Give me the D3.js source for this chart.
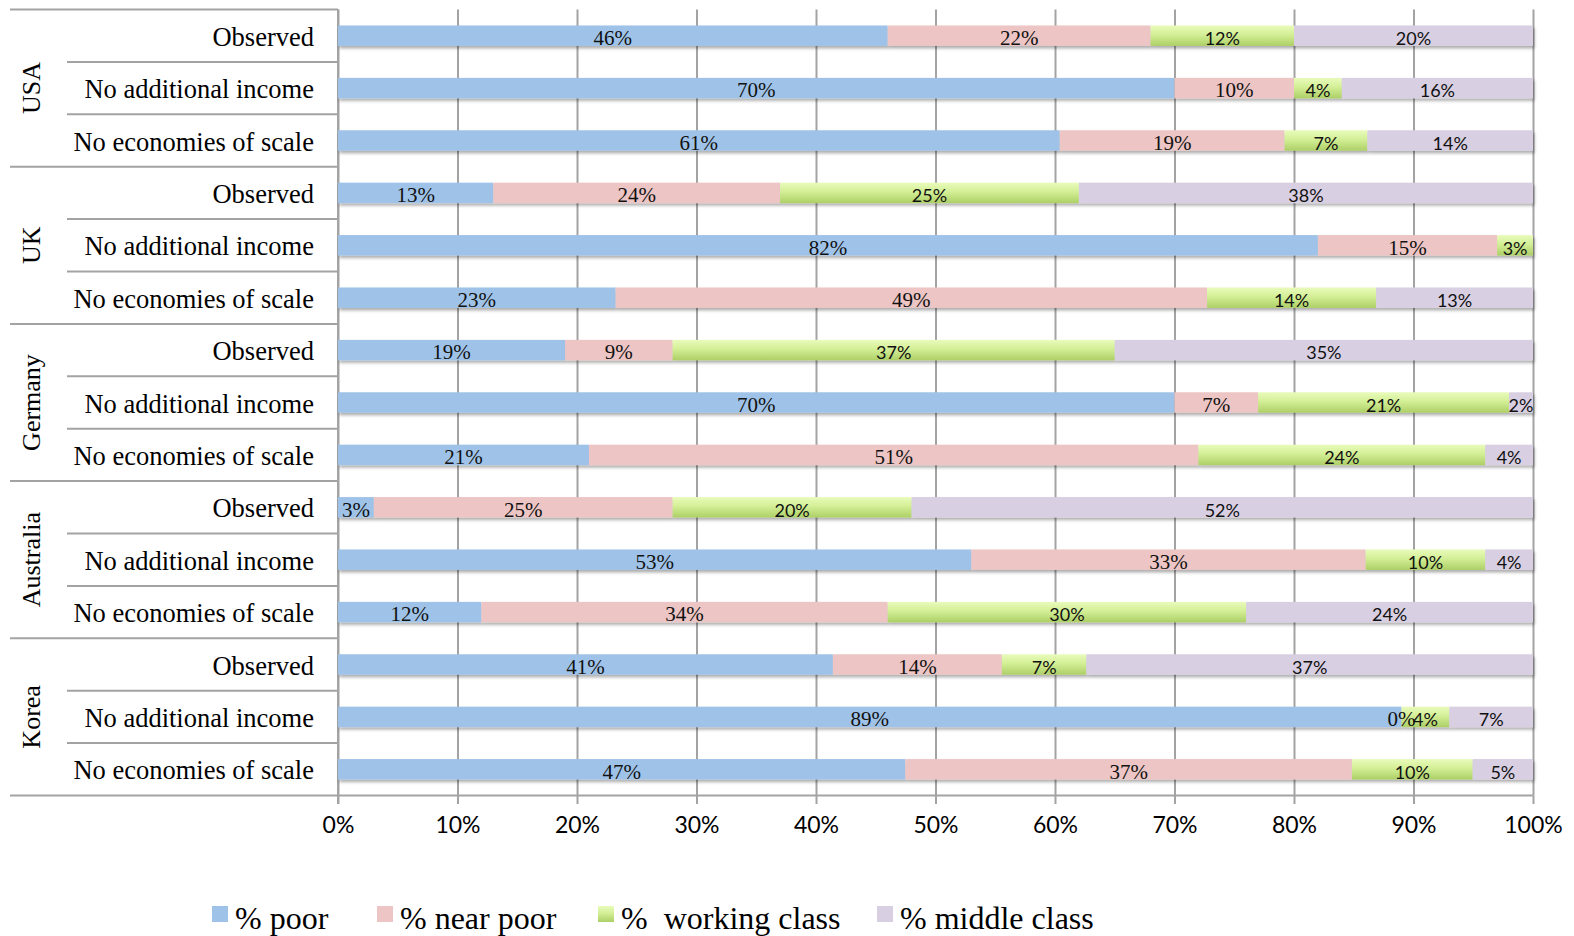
<!DOCTYPE html>
<html>
<head>
<meta charset="utf-8">
<script src="https://cdn.jsdelivr.net/npm/d3@7"></script>
<style>
  html, body { margin: 0; padding: 0; background: #fff; }
  svg { display: block; }
  text { white-space: pre; }
</style>
</head>
<body>
<svg id="chart" width="1574" height="936"></svg>
<script>
// ---- Data -------------------------------------------------------------
const countries = ["USA", "UK", "Germany", "Australia", "Korea"];
const scenarios = ["Observed", "No additional income", "No economies of scale"];

// One value per row: countries x scenarios, in reading order
const poor         = [46, 70, 61, 13, 82, 23, 19, 70, 21,  3, 53, 12, 41, 89, 47];
const nearPoor     = [22, 10, 19, 24, 15, 49,  9,  7, 51, 25, 33, 34, 14,  0, 37];
const workingClass = [12,  4,  7, 25,  3, 14, 37, 21, 24, 20, 10, 30,  7,  4, 10];
const middleClass  = [20, 16, 14, 38, null, 13, 35, 2, 4, 52,  4, 24, 37,  7,  5];

const seriesKeys   = ["poor", "nearPoor", "workingClass", "middleClass"];
const seriesNames  = ["% poor", "% near poor", "%  working class", "% middle class"];
const xTicks       = [0, 0.1, 0.2, 0.3, 0.4, 0.5, 0.6, 0.7, 0.8, 0.9, 1.0];

// ---- Layout & style ---------------------------------------------------
const serif = "'Liberation Serif', 'Times New Roman', serif";
const sans  = "Lato, 'Open Sans', sans-serif";
const x0 = 338, x1 = 1533, yTop = 9.5, yBot = 795.5;
const gridColor = "#a3a3a3";
const fills = {
  poor: "#9fc3e8",
  nearPoor: "#ecc5c4",
  workingClass: "url(#greenGrad)",
  middleClass: "#d8cfe2"
};
const labelFont = {
  poor: { family: serif, size: 21 },
  nearPoor: { family: serif, size: 21 },
  workingClass: { family: sans, size: 18 },
  middleClass: { family: sans, size: 18 }
};
const legendX = [212, 377, 598, 877];

// ---- Build rows -------------------------------------------------------
const rows = [];
countries.forEach((c, ci) => scenarios.forEach((s, si) => {
  const i = ci * scenarios.length + si;
  rows.push({
    idx: i, country: c, scenario: s,
    poor: poor[i], nearPoor: nearPoor[i],
    workingClass: workingClass[i], middleClass: middleClass[i]
  });
}));

const svg = d3.select("#chart");
const defs = svg.append("defs");

const grad = defs.append("linearGradient")
  .attr("id", "greenGrad").attr("x1", 0).attr("y1", 0).attr("x2", 0).attr("y2", 1);
grad.append("stop").attr("offset", "0%").attr("stop-color", "#e9fbbb");
grad.append("stop").attr("offset", "45%").attr("stop-color", "#d3ef96");
grad.append("stop").attr("offset", "100%").attr("stop-color", "#adcf66");

const shadow = defs.append("filter").attr("id", "barShadow")
  .attr("x", "-5%").attr("y", "-30%").attr("width", "110%").attr("height", "180%");
shadow.append("feDropShadow")
  .attr("dx", 1.5).attr("dy", 2.5).attr("stdDeviation", 1.6)
  .attr("flood-color", "#000").attr("flood-opacity", 0.32);

// ---- Scales -----------------------------------------------------------
const x = d3.scaleLinear().domain([0, 1]).range([x0, x1]);
const rowBand = d3.scaleBand().domain(rows.map(r => r.idx)).range([yTop, yBot]);
const y = d3.scaleBand().domain(rows.map(r => r.idx)).range([yTop, yBot])
  .paddingInner(0.61).paddingOuter(0.305);
const step = rowBand.step();

// ---- Grid (vertical lines) -------------------------------------------
const gridAxis = d3.axisBottom(x).tickValues(xTicks)
  .tickSize(-(yBot - yTop)).tickFormat("");
svg.append("g").attr("transform", `translate(0,${yBot})`)
  .call(gridAxis)
  .call(g => g.select(".domain").remove())
  .call(g => g.selectAll("line").attr("stroke", gridColor).attr("stroke-width", 2));

// Bottom axis: ticks and labels
const xAxis = d3.axisBottom(x).tickValues(xTicks)
  .tickSize(8.5).tickSizeOuter(0).tickPadding(13)
  .tickFormat(d3.format(".0%"));
svg.append("g").attr("transform", `translate(0,${yBot})`)
  .call(xAxis)
  .call(g => g.select(".domain").remove())
  .call(g => g.selectAll("line").attr("stroke", gridColor).attr("stroke-width", 2))
  .call(g => g.selectAll("text")
    .attr("font-family", sans).attr("font-size", 23).attr("fill", "#000"));

// ---- Left category table lines ---------------------------------------
const lines = svg.append("g").attr("stroke", gridColor).attr("stroke-width", 2);
lines.append("line").attr("x1", 10).attr("x2", x0).attr("y1", yTop).attr("y2", yTop);
rows.forEach(r => {
  const yb = rowBand(r.idx) + step;
  const lastInGroup = (r.idx % scenarios.length) === scenarios.length - 1;
  lines.append("line")
    .attr("x1", lastInGroup ? 10 : 67).attr("x2", x0)
    .attr("y1", yb).attr("y2", yb);
});
// bottom axis baseline across the plot
lines.append("line").attr("x1", x0).attr("x2", x1).attr("y1", yBot).attr("y2", yBot);
// vertical category axis
lines.append("line").attr("x1", x0).attr("x2", x0).attr("y1", yTop).attr("y2", yBot + 8.5);

// ---- Stacked bars -----------------------------------------------------
const stack = d3.stack()
  .keys(seriesKeys)
  .value((d, k) => d[k] == null ? 0 : d[k])
  .offset(d3.stackOffsetExpand);
const stacked = stack(rows);

const barG = svg.append("g").attr("filter", "url(#barShadow)");
stacked.forEach(layer => {
  barG.append("g").attr("fill", fills[layer.key])
    .selectAll("rect").data(layer).join("rect")
    .attr("x", d => x(d[0]))
    .attr("y", d => y(d.data.idx))
    .attr("width", d => Math.max(0, x(d[1]) - x(d[0])))
    .attr("height", y.bandwidth());
});

// ---- Value labels -----------------------------------------------------
const labG = svg.append("g");
stacked.forEach(layer => {
  const f = labelFont[layer.key];
  labG.append("g")
    .attr("font-family", f.family).attr("font-size", f.size)
    .attr("fill", "#111").attr("text-anchor", "middle")
    .selectAll("text").data(layer.filter(d => d.data[layer.key] != null)).join("text")
    .attr("x", d => x((d[0] + d[1]) / 2))
    .attr("y", d => y(d.data.idx) + y.bandwidth() - 1)
    .text(d => d.data[layer.key] + "%");
});

// ---- Category labels --------------------------------------------------
svg.append("g")
  .attr("font-family", serif).attr("font-size", 26.5).attr("fill", "#000")
  .attr("text-anchor", "end")
  .selectAll("text").data(rows).join("text")
  .attr("x", 314)
  .attr("y", d => rowBand(d.idx) + step / 2 + 10)
  .text(d => d.scenario);

svg.append("g")
  .attr("font-family", serif).attr("font-size", 26).attr("fill", "#000")
  .attr("text-anchor", "middle")
  .selectAll("text").data(countries).join("text")
  .attr("transform", (c, ci) => {
    const first = rowBand(ci * scenarios.length);
    const cy = first + step * scenarios.length / 2;
    return `translate(40,${cy}) rotate(-90)`;
  })
  .text(c => c);

// ---- Legend -----------------------------------------------------------
const legend = svg.append("g");
seriesKeys.forEach((k, i) => {
  const g = legend.append("g").attr("transform", `translate(${legendX[i]},0)`);
  g.append("rect").attr("x", 0).attr("y", 906).attr("width", 16).attr("height", 16)
    .attr("fill", fills[k]);
  g.append("text").attr("x", 23).attr("y", 929)
    .attr("font-family", serif).attr("font-size", 32).attr("fill", "#000")
    .text(seriesNames[i]);
});
</script>
</body>
</html>
